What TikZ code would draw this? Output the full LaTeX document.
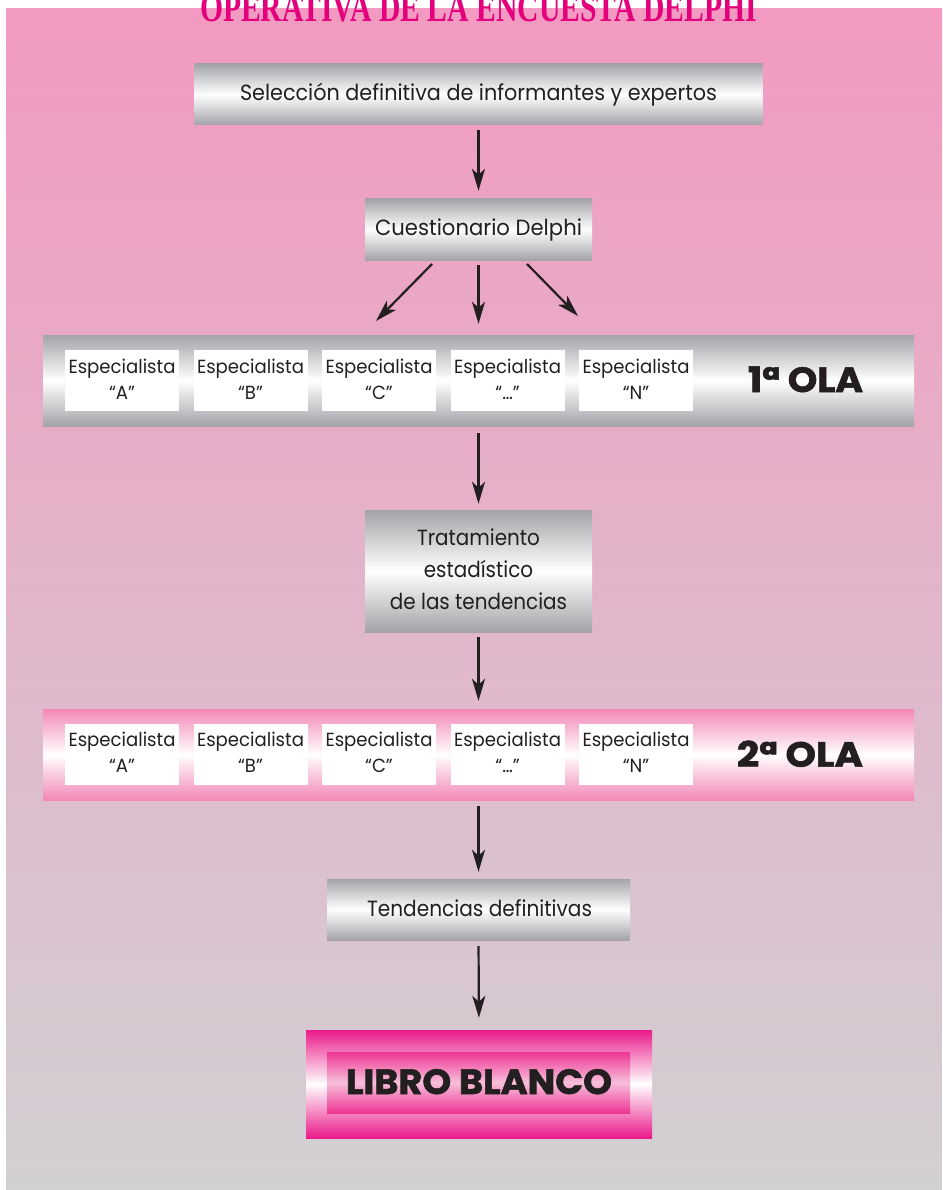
\documentclass[tikz,border=0pt]{standalone}
\usepackage{fontspec}
\usepackage{graphicx}
\setmainfont{Poppins}
\newfontfamily\titlefont{Liberation Serif}
\newfontfamily\heavyfont[BoldFeatures={FakeBold=1.6}]{Poppins}
\usetikzlibrary{arrows.meta}

\definecolor{ink}{HTML}{231F20}
\definecolor{paneltop}{HTML}{F29AC1}
\definecolor{panelbot}{HTML}{D2D0D3}
\definecolor{silver}{HTML}{A4A3A8}
\definecolor{barpink}{HTML}{F288B6}
\definecolor{magentadeep}{HTML}{EA1A89}
\definecolor{magentainner}{HTML}{EE3694}
\definecolor{pinklight}{HTML}{F7BFDA}
\definecolor{titlemag}{HTML}{E4007C}

% squeeze #3 horizontally so that reference text #2 is #1 pt wide
\newlength\fitlen
\newcommand\fitto[3]{\settowidth\fitlen{#2}\pgfmathsetmacro\fitratio{#1/\fitlen}\scalebox{\fitratio}[1]{#3}}

\tikzset{
  silverbox/.style={inner sep=0pt, top color=silver, bottom color=silver, middle color=white},
  pinkbar/.style={inner sep=0pt, top color=barpink, bottom color=barpink, middle color=white},
  whitebox/.style={fill=white, inner sep=0pt, minimum width=114pt, minimum height=61pt},
  bodytext/.style={inner sep=0pt, anchor=base, text=ink, font=\fontsize{22}{32}\selectfont},
  esptext/.style={inner sep=0pt, anchor=base, text=ink, font=\fontsize{19}{26}\selectfont},
  olatext/.style={inner sep=0pt, anchor=base, text=ink, font=\fontsize{35}{40}\selectfont\heavyfont\bfseries},
  arr/.style={draw=ink, line width=2.2pt, -{Stealth[length=22pt,width=13pt,inset=6pt]}}
}

\newcommand\espbox[5]{% name, x, box y, baseline y, label
  \node[whitebox] (#1) at (#2,#3) {};
  \node[esptext] (#1t) at (#2,#4)
    {\fitto{107}{Especialista}{\begin{tabular}[t]{@{}c@{}}Especialista\\“#5”\end{tabular}}};
}

\begin{document}
\begin{tikzpicture}[x=1pt,y=-1pt]
\useasboundingbox (0,0) rectangle (942,1190);
\clip (0,0) rectangle (942,1190);
\fill[white] (0,0) rectangle (942,1190);
\shade[top color=paneltop, bottom color=panelbot] (6,9) rectangle (942,1190);

% heading
\node[inner sep=0pt, anchor=base, text=titlemag] (title) at (478.5,22)
  {\titlefont\bfseries\resizebox{557pt}{27pt}{OPERATIVA DE LA ENCUESTA DELPHI}};

% selection of experts
\node[silverbox, minimum width=568pt, minimum height=61pt] (sel) at (478.5,94.5) {};
\node[bodytext] (selt) at (478.5,101) {\fitto{477}{Selección definitiva de informantes y expertos}{Selección definitiva de informantes y expertos}};

% questionnaire
\node[silverbox, minimum width=227pt, minimum height=61pt] (cue) at (478.5,229.5) {};
\node[bodytext] (cuet) at (478.5,236) {\fitto{207}{Cuestionario Delphi}{Cuestionario Delphi}};

% first wave
\node[silverbox, minimum width=871pt, minimum height=91pt] (ola1) at (478.5,380.5) {};
\espbox{a1}{122}{380.5}{373.3}{A}
\espbox{b1}{250.5}{380.5}{373.3}{B}
\espbox{c1}{379}{380.5}{373.3}{C}
\espbox{d1}{507.5}{380.5}{373.3}{\textellipsis}
\espbox{n1}{636}{380.5}{373.3}{N}
\node[olatext] (ola1t) at (805.5,392) {\fitto{115}{1ª OLA}{1ª OLA}};

% statistical treatment
\node[silverbox, minimum width=227pt, minimum height=122pt] (trat) at (478.5,571) {};
\node[bodytext] (tratt) at (478.5,545)
  {\fitto{123}{Tratamiento}{\begin{tabular}[t]{@{}c@{}}Tratamiento\\estadístico\\de las tendencias\end{tabular}}};

% second wave
\node[pinkbar, minimum width=871pt, minimum height=91pt] (ola2) at (478.5,754.5) {};
\espbox{a2}{122}{754.5}{746.7}{A}
\espbox{b2}{250.5}{754.5}{746.7}{B}
\espbox{c2}{379}{754.5}{746.7}{C}
\espbox{d2}{507.5}{754.5}{746.7}{\textellipsis}
\espbox{n2}{636}{754.5}{746.7}{N}
\node[olatext] (ola2t) at (800,766.7) {\fitto{126}{2ª OLA}{2ª OLA}};

% final trends
\node[silverbox, minimum width=303pt, minimum height=61pt] (tend) at (478.5,909.5) {};
\node[bodytext] (tendt) at (479.5,916) {\fitto{225}{Tendencias definitivas}{Tendencias definitivas}};

% white book
\node[inner sep=0pt, top color=magentadeep, bottom color=magentadeep, middle color=white,
      minimum width=346pt, minimum height=108pt] (libro) at (479,1084) {};
\node[inner sep=0pt, top color=magentainner, bottom color=magentainner, middle color=pinklight,
      minimum width=303pt, minimum height=61pt] (libroin) at (478.5,1082.5) {};
\node[olatext] (librot) at (479,1094) {\fitto{266}{LIBRO BLANCO}{LIBRO BLANCO}};

% connectors
\coordinate (dl0) at (432,264);
\coordinate (dl1) at (376,321);
\coordinate (dr0) at (527,264);
\coordinate (dr1) at (578,316);
\draw[arr, shorten <=5pt, shorten >=8pt] (sel.south) -- (cue.north);
\draw[arr] (dl0) -- (dl1);
\draw[arr, shorten <=5pt, shorten >=11pt] (cue.south) -- (ola1.north);
\draw[arr] (dr0) -- (dr1);
\draw[arr, shorten <=7pt, shorten >=6pt] (ola1.south) -- (trat.north);
\draw[arr, shorten <=5pt, shorten >=8pt] (trat.south) -- (ola2.north);
\draw[arr, shorten <=6pt, shorten >=7pt] (ola2.south) -- (tend.north);
\draw[arr, shorten <=6pt, shorten >=12pt] (tend.south) -- (libro.north);
\end{tikzpicture}
\end{document}
